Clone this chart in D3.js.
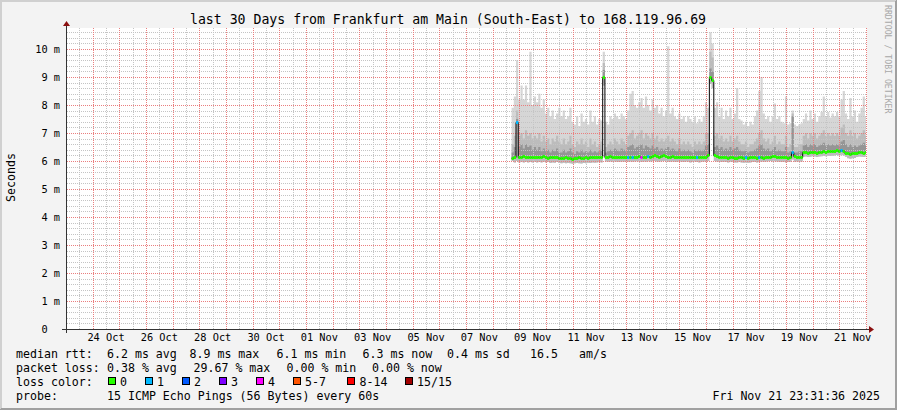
<!DOCTYPE html>
<html><head><meta charset="utf-8">
<script src="https://cdn.jsdelivr.net/npm/d3@7"></script>
<style>
html,body{margin:0;padding:0;background:#f3f3f3;}
svg{display:block;}
text{font-family:"DejaVu Sans Mono",monospace;fill:#000;}
</style>
</head><body>
<svg id="c" width="897" height="410"></svg>
<script>
// ---------------- data ----------------
const title = "last 30 Days from Frankfurt am Main (South-East) to 168.119.96.69";
const yAxisTitle = "Seconds";
const watermark = "RRDTOOL / TOBI OETIKER";
const endTime = "2025-11-21T23:31:36Z";
const rangeDays = 30;
const dataStart = "2025-11-08T17:00:00Z";
const stepHours = 2;
const yTicks = [0,1,2,3,4,5,6,7,8,9,10];
const yTickLabels = ["0","1 m","2 m","3 m","4 m","5 m","6 m","7 m","8 m","9 m","10 m"];
const xTickDates = ["2025-10-24","2025-10-26","2025-10-28","2025-10-30","2025-11-01","2025-11-03","2025-11-05","2025-11-07","2025-11-09","2025-11-11","2025-11-13","2025-11-15","2025-11-17","2025-11-19","2025-11-21"];

// median RTT (ms), one value per 2 h
const median = [
6.1,6.15,7.4,6.15,6.15,6.17,6.15,6.13,6.15,6.16,
6.14,6.15,6.13,6.15,6.17,6.15,6.12,6.14,6.15,6.13,
6.15,6.12,6.1,6.12,6.14,6.1,6.12,6.08,6.1,6.12,
6.14,6.12,6.1,6.14,6.12,6.15,6.13,6.15,6.14,6.16,
6.15,9.0,6.15,6.15,6.17,6.15,6.14,6.16,6.15,6.13,
6.15,6.14,6.15,6.16,6.15,6.14,6.15,6.17,6.15,6.16,
6.15,6.18,6.15,6.17,6.2,6.17,6.15,6.18,6.2,6.17,
6.15,6.15,6.17,6.15,6.14,6.16,6.15,6.14,6.16,6.15,
6.13,6.15,6.16,6.14,6.13,6.15,6.16,6.15,6.2,9.0,
8.9,6.2,6.18,6.15,6.13,6.15,6.14,6.12,6.15,6.13,
6.12,6.12,6.14,6.13,6.12,6.13,6.12,6.13,6.15,6.14,
6.12,6.13,6.14,6.12,6.15,6.14,6.16,6.18,6.17,6.15,
6.16,6.15,6.14,6.13,6.12,6.14,6.33,6.17,6.15,6.14,
6.15,6.32,6.32,6.3,6.31,6.33,6.32,6.3,6.32,6.33,
6.34,6.33,6.35,6.34,6.35,6.36,6.38,6.37,6.38,6.35,
6.3,6.27,6.26,6.27,6.28,6.3,6.32,6.31,6.3,6.32];

// smoke: slowest ping (ms)
const smokeMax = [
7.9,8.3,9.6,8.2,8.7,8.2,8.7,8.1,9.9,8.0,
8.3,8.1,8.4,7.9,8.2,7.7,7.9,7.6,7.8,7.5,
7.7,7.9,7.6,7.8,7.5,7.6,7.9,7.4,7.3,7.6,
7.25,7.7,7.4,7.5,7.3,7.8,7.4,7.6,7.3,7.5,
7.45,9.9,7.4,7.3,7.6,7.5,7.7,7.6,7.5,7.7,
7.6,7.5,7.8,8.4,8.5,8.0,7.9,8.1,8.25,7.9,
8.3,8.0,7.8,8.2,7.9,8.0,7.7,7.9,7.6,7.8,
10.1,7.7,7.9,7.6,7.5,7.7,7.5,7.6,7.4,7.6,
7.5,7.4,7.6,7.35,7.5,7.4,7.6,8.1,7.9,10.6,
10.2,7.9,8.1,7.6,7.9,7.5,7.8,7.6,7.9,7.5,
7.7,8.6,7.5,7.45,7.3,7.4,7.25,7.4,7.3,7.6,
7.8,8.5,9.0,7.7,7.5,7.6,7.4,7.6,8.05,7.5,
7.6,7.4,7.35,8.3,7.3,7.35,7.8,7.3,7.25,7.3,
7.35,7.5,7.7,7.45,7.8,7.5,7.7,7.4,7.6,7.75,
8.3,7.6,7.75,7.55,7.7,7.6,7.75,7.6,8.2,8.5,
7.7,7.5,8.25,7.6,7.8,7.4,7.7,7.9,8.3,7.6];

// smoke: upper edge of the medium grey band (ms)
const smokeHigh = [
6.6,6.9,7.8,6.9,7.0,6.8,7.1,6.9,7.0,6.8,
6.9,6.8,7.0,6.7,6.9,6.7,6.8,6.6,6.8,6.7,
6.9,6.7,6.6,6.8,6.6,6.7,6.9,6.6,6.5,6.7,
6.6,6.8,6.6,6.7,6.5,6.8,6.6,6.7,6.5,6.6,
6.7,9.5,6.5,6.6,6.7,6.6,6.8,6.7,6.6,6.8,
6.7,6.6,6.9,7.0,7.1,6.8,6.9,7.0,7.1,6.8,
7.0,6.9,6.8,7.0,6.8,6.9,6.7,6.8,6.7,6.8,
6.9,6.7,6.8,6.7,6.6,6.8,6.6,6.7,6.6,6.7,
6.6,6.5,6.7,6.6,6.7,6.6,6.7,7.0,7.0,9.9,
9.7,6.9,7.0,6.8,6.9,6.7,6.8,6.7,6.9,6.7,
6.8,6.9,6.7,6.6,6.6,6.7,6.5,6.6,6.6,6.7,
6.8,7.0,7.1,6.8,6.7,6.8,6.6,6.7,6.9,6.6,
6.7,6.6,6.6,6.9,6.5,6.6,7.7,6.5,6.5,6.6,
6.6,6.9,7.0,6.8,7.0,6.9,7.0,6.8,6.9,7.0,
7.1,6.9,7.0,6.9,7.0,6.9,7.0,6.9,7.2,7.3,
7.0,6.9,7.1,6.9,7.0,6.8,6.9,7.0,7.1,6.9];

// smoke: upper edge of the dark band next to the median (ms)
const smokeMid = [
6.3,6.5,7.5,6.5,6.6,6.45,6.6,6.5,6.55,6.4,
6.5,6.4,6.5,6.35,6.45,6.35,6.4,6.3,6.4,6.35,
6.45,6.3,6.3,6.4,6.3,6.35,6.45,6.3,6.25,6.35,
6.3,6.4,6.3,6.35,6.3,6.4,6.3,6.35,6.3,6.35,
6.4,9.25,6.3,6.35,6.4,6.35,6.45,6.4,6.35,6.45,
6.4,6.35,6.5,6.55,6.6,6.45,6.5,6.55,6.6,6.45,
6.55,6.5,6.45,6.55,6.45,6.5,6.4,6.45,6.4,6.45,
6.5,6.4,6.45,6.4,6.35,6.45,6.35,6.4,6.35,6.4,
6.35,6.3,6.4,6.35,6.4,6.35,6.4,6.55,6.6,9.3,
9.2,6.5,6.55,6.45,6.5,6.4,6.45,6.4,6.5,6.4,
6.45,6.5,6.4,6.35,6.35,6.4,6.3,6.35,6.35,6.4,
6.45,6.55,6.6,6.45,6.4,6.45,6.35,6.4,6.5,6.35,
6.4,6.35,6.35,6.5,6.3,6.35,7.6,6.3,6.3,6.35,
6.35,6.55,6.6,6.5,6.6,6.55,6.6,6.5,6.55,6.6,
6.65,6.55,6.6,6.55,6.6,6.55,6.6,6.55,6.7,6.75,
6.6,6.5,6.6,6.5,6.55,6.5,6.55,6.6,6.65,6.55];

// smoke: fastest ping (ms)
const smokeMin = [
6.0,5.95,6.0,5.95,5.97,5.95,5.97,5.95,5.96,5.95,
5.97,5.95,5.96,5.95,5.97,5.95,5.96,5.93,5.95,5.94,
5.96,5.93,5.92,5.94,5.92,5.93,5.92,5.9,5.92,5.93,
5.92,5.91,5.93,5.92,5.94,5.93,5.95,5.94,5.95,5.96,
5.95,8.7,5.98,5.97,5.98,5.97,5.98,5.97,5.96,5.98,
5.97,5.98,5.97,5.98,5.97,5.98,5.99,5.98,5.96,5.98,
5.97,5.99,5.98,5.99,6.0,5.98,5.97,5.99,6.0,5.98,
5.97,5.97,5.98,5.97,5.96,5.98,5.97,5.96,5.98,5.97,
5.95,5.97,5.98,5.96,5.95,5.97,5.98,5.97,6.0,8.75,
8.6,6.0,5.98,5.97,5.96,5.97,5.96,5.95,5.97,5.96,
5.95,5.95,5.96,5.95,5.94,5.95,5.94,5.95,5.96,5.96,
5.95,5.96,5.98,5.97,5.98,5.99,6.0,5.98,5.99,5.98,
5.97,5.96,5.97,5.95,5.96,5.97,6.05,5.97,5.98,5.97,
5.98,6.15,6.16,6.14,6.15,6.17,6.16,6.14,6.16,6.17,
6.18,6.17,6.19,6.18,6.19,6.2,6.21,6.2,6.22,6.2,
6.15,6.1,6.08,6.1,6.11,6.14,6.16,6.15,6.14,6.16];

// lost pings (of 15) where not zero
const lossIndex = [2,52,54,58,61,83,105,111,126,148];
const lossPings = [1,1,1,4,1,1,1,1,1,1];

// legend
const lossClasses = ["0","1","2","3","4","5-7","8-14","15/15"];
const lossColors  = ["#26ff00","#00b8ff","#0059ff","#7e00ff","#ff00ff","#ff5500","#ff0000","#a10000"];
const medianStats = ["6.2 ms avg","8.9 ms max","6.1 ms min","6.3 ms now","0.4 ms sd","16.5","am/s"];
const lossStats = ["0.38 % avg","29.67 % max","0.00 % min","0.00 % now"];
const probeText = "15 ICMP Echo Pings (56 Bytes) every 60s";
const stampText = "Fri Nov 21 23:31:36 2025";

// ---------------- layout ----------------
const W = 897, H = 410;
const PL = 65.5, PR = 865.5, PT = 28, PB = 329;
const svg = d3.select("#c");

const tEnd = new Date(endTime);
const tStart = new Date(tEnd.getTime() - rangeDays*864e5);
const x = d3.scaleUtc().domain([tStart, tEnd]).range([PL, PR]);
const y = d3.scaleLinear().domain([0, 10.75]).range([PB, PT]);

// background and 3D border
svg.append("rect").attr("width",W).attr("height",H).attr("fill","#f3f3f3");
svg.append("path").attr("d",`M0,0.5H${W}M0.5,0V${H}M0,1.5H${W-1}M1.5,0V${H-1}`).attr("stroke","#d0d0d0").attr("fill","none");
svg.append("path").attr("d",`M0,${H-0.5}H${W}M${W-0.5},0V${H}M1,${H-1.5}H${W}M${W-1.5},1V${H}`).attr("stroke","#a0a0a0").attr("fill","none");

// canvas
svg.append("rect").attr("x",66).attr("y",PT).attr("width",801).attr("height",PB-PT).attr("fill","#ffffff");

svg.append("defs").append("clipPath").attr("id","pc")
  .append("rect").attr("x",66).attr("y",PT).attr("width",PR-66+0.5).attr("height",PB-PT);

// data records
const step = stepHours*36e5;
const t0 = new Date(dataStart).getTime();
const recs = median.map((m,i)=>({t:new Date(t0+i*step), med:m, max:smokeMax[i], high:smokeHigh[i], mid:smokeMid[i], min:smokeMin[i], loss:0}));
lossIndex.forEach((k,j)=>{ if(recs[k]) recs[k].loss = lossPings[j]; });
const lastRec = recs[recs.length-1];
const recsExt = recs.concat([Object.assign({}, lastRec, {t:new Date(lastRec.t.getTime()+step)})]);

const g = svg.append("g").attr("clip-path","url(#pc)");
function band(lo, hi, color){
  g.append("path").datum(recsExt)
   .attr("d", d3.area().curve(d3.curveStepAfter).x(d=>x(d.t)).y0(d=>y(d[lo])).y1(d=>y(d[hi])))
   .attr("fill", color).attr("stroke","none");
}
band("min","max","#d6d6d6");
band("min","high","#bcbcbc");
band("med","mid","#959595");

// grid (drawn over smoke like rrdtool)
const grid = svg.append("g").attr("shape-rendering","crispEdges");
const MINOR = "#c4c4c4", MAJOR = "#ea7e7e";
const minorH = d3.range(0, 10.75, 0.2).filter(v => Math.abs(v - Math.round(v)) > 1e-6);
grid.selectAll(".hmin").data(minorH).enter().append("line")
  .attr("x1",67).attr("x2",867).attr("y1",d=>Math.round(y(d))+0.5).attr("y2",d=>Math.round(y(d))+0.5)
  .attr("stroke",MINOR).attr("stroke-dasharray","1,1");
const dayStart = d3.utcDay.ceil(tStart);
const tGridEnd = new Date(tEnd.getTime()+36e5);
const noons = d3.utcHour.every(12).range(tStart, tGridEnd).filter(d=>d.getUTCHours()===12);
const days = d3.utcDay.range(dayStart, tGridEnd);
grid.selectAll(".vmin").data(noons).enter().append("line")
  .attr("x1",d=>Math.round(x(d))+0.5).attr("x2",d=>Math.round(x(d))+0.5).attr("y1",PT).attr("y2",PB)
  .attr("stroke",MINOR).attr("stroke-dasharray","1,1");
grid.selectAll(".hmaj").data(yTicks.filter(v=>v>0)).enter().append("line")
  .attr("x1",67).attr("x2",867).attr("y1",d=>Math.round(y(d))+0.5).attr("y2",d=>Math.round(y(d))+0.5)
  .attr("stroke",MAJOR).attr("stroke-dasharray","1,1");
grid.selectAll(".vmaj").data(days.filter(d=>x(d)>67)).enter().append("line")
  .attr("x1",d=>Math.round(x(d))+0.5).attr("x2",d=>Math.round(x(d))+0.5).attr("y1",PT).attr("y2",PB)
  .attr("stroke",MAJOR).attr("stroke-dasharray","1,1");

// median line
const gm = svg.append("g").attr("clip-path","url(#pc)");
gm.append("path").datum(recsExt)
  .attr("d", d3.line().curve(d3.curveStepAfter).x(d=>x(d.t)).y(d=>Math.round(y(d.med))+0.5))
  .attr("fill","none").attr("stroke","#000").attr("stroke-width",1);
function lossColor(l){
  if(l<=4) return lossColors[l];
  if(l<=7) return lossColors[5];
  if(l<=14) return lossColors[6];
  return lossColors[7];
}
gm.selectAll(".seg").data(recs).enter().append("rect")
  .attr("x",d=>x(d.t)).attr("width",d=>x(new Date(d.t.getTime()+step))-x(d.t))
  .attr("y",d=>Math.round(y(d.med))-1).attr("height",3)
  .attr("fill",d=>lossColor(d.loss));

// axes
const ax = svg.append("g");
ax.append("line").attr("x1",62).attr("x2",870).attr("y1",PB+0.5).attr("y2",PB+0.5).attr("stroke","#333");
ax.append("line").attr("x1",66.5).attr("x2",66.5).attr("y1",333).attr("y2",25).attr("stroke","#333");
ax.append("path").attr("d",`M869,${PB-3}L874,${PB+0.5}L869,${PB+4}Z`).attr("fill","#8b1010");
ax.append("path").attr("d",`M63,26L66.5,21L70,26Z`).attr("fill","#8b1010");

// y tick labels
ax.selectAll(".yl").data(yTicks).enter().append("text")
  .attr("x",60).attr("y",d=>y(d)+3.5).attr("text-anchor","end")
  .attr("font-size","10.3px").attr("xml:space","preserve")
  .text((d,i)=> i===0 ? yTickLabels[i]+"\u00a0\u00a0" : yTickLabels[i]);

// x tick labels (centred on noon)
const fmt = d3.utcFormat("%d %b");
ax.selectAll(".xl").data(xTickDates).enter().append("text")
  .attr("x",d=>x(new Date(new Date(d+"T00:00:00Z").getTime()+432e5)))
  .attr("y",341).attr("text-anchor","middle").attr("font-size","10.3px")
  .text(d=>fmt(new Date(d+"T00:00:00Z")));

// title
svg.append("text").attr("x",448).attr("y",24).attr("text-anchor","middle").attr("font-size","13.2px").text(title);
// y axis title
svg.append("text").attr("transform","translate(14.5,177.5) rotate(-90)").attr("text-anchor","middle").attr("font-size","11.6px").text(yAxisTitle);
// watermark
svg.append("text").attr("transform","translate(885,5) rotate(90)").attr("font-size","8.2px").style("fill","#a8a8a8").text(watermark);

// legend
const LF = "11.6px";
const rows = [357.5, 371.5, 385.5, 399.5];
function lt(xp, yp, s, anchor){ svg.append("text").attr("x",xp).attr("y",yp).attr("font-size",LF).attr("text-anchor",anchor||"start").text(s); }
lt(16, rows[0], "median rtt:");
const mX = [107, 189.5, 276.5, 362.5, 447, 530, 579];
medianStats.forEach((s,i)=>lt(mX[i], rows[0], s));
lt(16, rows[1], "packet loss:");
const pX = [107, 193.5, 286.5, 372];
lossStats.forEach((s,i)=>lt(pX[i], rows[1], s));
lt(16, rows[2], "loss color:");
const boxX = [108.5, 145.5, 182.5, 219.5, 256.5, 293.5, 347.5, 405.5];
const labX = [120, 157, 194, 231, 268, 305, 359.5, 417];
lossClasses.forEach((c,i)=>{
  svg.append("rect").attr("x",boxX[i]).attr("y",377.5).attr("width",7).attr("height",7)
    .attr("fill",lossColors[i]).attr("stroke","#000").attr("stroke-width",1);
  lt(labX[i], rows[2], c);
});
lt(16, rows[3], "probe:");
lt(107, rows[3], probeText);
lt(880, rows[3], stampText, "end");
</script>
</body></html>
